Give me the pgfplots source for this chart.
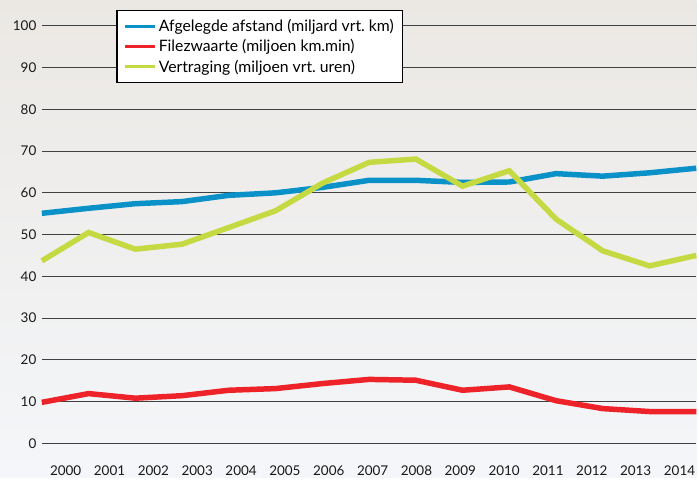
\documentclass[border=0pt]{standalone}
\usepackage{fontspec}
\setmainfont{Lato}
\usepackage{pgfplots}
\pgfplotsset{compat=1.18}

\definecolor{bgtop}{HTML}{EBE8E4}
\definecolor{bgbot}{HTML}{F4F6F9}
\definecolor{afstand}{HTML}{0A92C8}
\definecolor{file}{HTML}{EE2329}
\definecolor{vertr}{HTML}{C5DA42}

\pgfplotstableread{
x afstand file vertraging
0  55.1  9.8 43.7
1  56.3 11.9 50.5
2  57.4 10.8 46.5
3  57.9 11.4 47.7
4  59.4 12.7 51.7
5  60.0 13.1 55.7
6  61.3 14.3 62.3
7  63.0 15.3 67.3
8  63.0 15.1 68.1
9  62.5 12.7 61.6
10 62.6 13.5 65.3
11 64.6 10.2 53.7
12 64.0  8.3 46.1
13 64.8  7.6 42.5
14 65.9  7.6 45.0
}\datatable

\begin{document}
\begin{tikzpicture}[x=1pt,y=1pt]
\shade[top color=bgtop, bottom color=bgbot] (0,0) rectangle (699,479);
\begin{axis}[
  at={(42pt,34pt)}, anchor=origin,
  scale only axis, width=657pt, height=419pt,
  xmin=0, xmax=14, ymin=0, ymax=100,
  clip=false,
  axis line style={draw=none},
  major tick length=0pt, tick style={draw=none},
  ytick={0,10,...,100},
  ymajorgrids, grid style={black!75, line width=1.1pt},
  xtick={0.51,1.448,2.386,3.324,4.262,5.2,6.138,7.076,8.014,8.952,9.89,10.828,11.766,12.704,13.642},
  xticklabels={2000,2001,2002,2003,2004,2005,2006,2007,2008,2009,2010,2011,2012,2013,2014},
  tick label style={font=\fontsize{13.5}{15}\selectfont, text=black!90},
  /pgf/number format/assume math mode=true,
  y tick label style={xshift=-2pt},
  x tick label style={anchor=center, yshift=-28pt},
  legend style={at={(rel axis cs:0.114,1.038)}, anchor=north west,
    draw=black, line width=1.1pt, fill=white,
    font=\fontsize{15.8}{21}\selectfont,
    row sep=2.5pt, inner xsep=7pt, inner ysep=7pt,
    cells={anchor=west}},
  legend image code/.code={\draw[#1, line width=3pt] (0pt,0pt) -- (30pt,0pt);},
]
\addplot[afstand, line width=5.5pt] table[x=x, y=afstand] {\datatable};
\addlegendentry{Afgelegde afstand (miljard vrt.\ km)\hspace{31pt}}
\addplot[file, line width=5.5pt] table[x=x, y=file] {\datatable};
\addlegendentry{Filezwaarte (miljoen km.min)}
\addplot[vertr, line width=5.5pt] table[x=x, y=vertraging] {\datatable};
\addlegendentry{Vertraging (miljoen vrt.\ uren)}
\end{axis}
\end{tikzpicture}
\end{document}
